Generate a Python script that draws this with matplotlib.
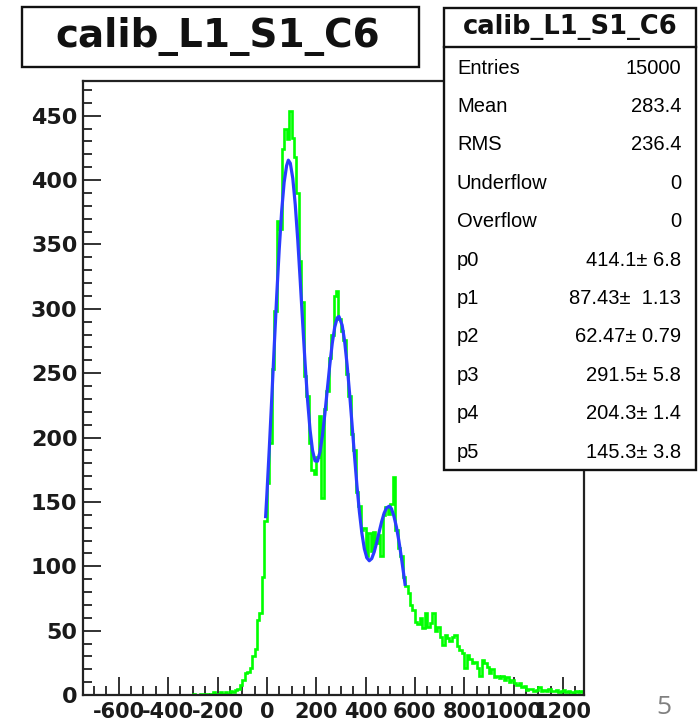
import numpy as np
import matplotlib
matplotlib.use('Agg')
import matplotlib.pyplot as plt
from matplotlib.patches import Rectangle
from matplotlib.lines import Line2D
from matplotlib.ticker import MultipleLocator

plt.rcParams['font.family'] = ['DejaVu Sans']
plt.rcParams['axes.unicode_minus'] = False

# histogram contents, 10 wide bins, first bin starts at -300
bin_start = -300
bin_width = 10
counts = [
    1, 0, 0, 1, 0, 1, 0, 1, 2, 1,
    1, 2, 1, 2, 1, 3, 2, 4, 5, 8,
    12, 17, 18, 21, 30, 36, 58, 64, 92, 135,
    165, 196, 253, 298, 368, 362, 424, 440, 432, 454,
    433, 418, 390, 337, 305, 248, 232, 196, 175, 172,
    185, 217, 153, 222, 236, 262, 280, 310, 314, 292,
    283, 276, 249, 232, 203, 190, 158, 147, 128, 130,
    108, 126, 112, 127, 118, 124, 108, 140, 146, 141,
    148, 169, 128, 114, 108, 92, 85, 79, 70, 66,
    57, 55, 60, 52, 64, 53, 56, 64, 50, 53,
    45, 39, 47, 44, 42, 45, 47, 38, 35, 33,
    21, 31, 28, 25, 26, 21, 15, 27, 25, 22,
    17, 20, 14, 15, 13, 15, 12, 14, 10, 12,
    9, 8, 9, 6, 7, 4, 5, 5, 3, 4,
    6, 3, 4, 3, 5, 3, 3, 4, 2, 3,
    4, 2, 3, 2, 1, 3, 2, 3,
]

# fitted curve (blue)
fit_x = [-5, 0, 10, 20, 30, 40, 50, 60, 70, 80, 87, 95, 105, 115, 125, 135,
         145, 155, 165, 175, 185, 195, 205, 215, 225, 235, 245, 255, 265, 275,
         285, 292, 305, 315, 325, 335, 345, 355, 365, 375, 385, 395, 405, 415,
         425, 435, 445, 455, 465, 475, 485, 496, 505, 515, 525, 535, 545, 555, 560]
fit_y = [138.6, 155.5, 192.1, 231.2, 271.4, 310.4, 346.1, 376.0, 398.3, 411.2,
         415.5, 413.1, 401.4, 381.0, 354.0, 322.4, 289.3, 257.3, 228.9, 205.9,
         190.1, 181.9, 181.6, 188.6, 201.4, 218.4, 237.5, 256.5, 273.3, 285.8,
         293.0, 294.1, 287.3, 275.0, 256.7, 234.7, 210.5, 186.0, 162.6, 142.2,
         125.6, 113.6, 106.6, 104.3, 106.0, 111.2, 118.5, 126.7, 134.6, 141.2,
         145.4, 146.7, 144.7, 138.8, 130.5, 119.6, 106.9, 93.1, 86.0]

hist_name = 'calib_L1_S1_C6'
stat_names = ['Entries', 'Mean', 'RMS', 'Underflow', 'Overflow',
              'p0', 'p1', 'p2', 'p3', 'p4', 'p5']
stat_values = ['15000', '283.4', '236.4', '0', '0',
               '414.1± 6.8', '87.43±  1.13', '62.47± 0.79',
               '291.5± 5.8', '204.3± 1.4', '145.3± 3.8']

x_ticks = [-600, -400, -200, 0, 200, 400, 600, 800, 1000, 1200]
y_ticks = [0, 50, 100, 150, 200, 250, 300, 350, 400, 450]

# figure in pixel units
W, H = 699, 725
fig = plt.figure(figsize=(W / 100, H / 100), dpi=100)

def fx(px):
    return px / W

def fy(py):
    return 1 - py / H

ax = fig.add_axes([fx(83), fy(695), (584 - 83) / W, (695 - 81) / H])

edges = bin_start + bin_width * np.arange(len(counts) + 1)
ax.stairs(counts, edges, color='#00ff00', linewidth=1.9, zorder=2)
ax.plot(fit_x, fit_y, color='#2a3cff', linewidth=2.3, zorder=3)

ax.set_xlim(-745, 1285)
ax.set_ylim(0, 477)
ax.set_xticks(x_ticks)
ax.set_yticks(y_ticks)
ax.xaxis.set_minor_locator(MultipleLocator(50))
ax.yaxis.set_minor_locator(MultipleLocator(10))
ax.tick_params(which='both', direction='in', width=1.3, color='#222222')
ax.tick_params(which='major', length=13)
ax.tick_params(which='minor', length=6.5)
ax.tick_params(axis='x', labelsize=15, pad=5, labelcolor='#1a1a1a')
ax.tick_params(axis='y', labelsize=16, pad=4, labelcolor='#1a1a1a')
for lab in ax.get_xticklabels() + ax.get_yticklabels():
    lab.set_fontweight('bold')
for s in ax.spines.values():
    s.set_linewidth(1.6)
    s.set_color('#222222')

# title box
fig.add_artist(Rectangle((fx(22), fy(67)), (419 - 22) / W, (67 - 7) / H,
                         transform=fig.transFigure, facecolor='white',
                         edgecolor='#111111', linewidth=1.7, zorder=5))
fig.text(fx(218), fy(37), hist_name, ha='center', va='center',
         fontsize=28, fontweight='bold', color='#111111', zorder=6)

# stats box
fig.add_artist(Rectangle((fx(444), fy(470)), (696 - 444) / W, (470 - 8) / H,
                         transform=fig.transFigure, facecolor='white',
                         edgecolor='#111111', linewidth=1.7, zorder=5))
fig.add_artist(Line2D([fx(444), fx(696)], [fy(47), fy(47)],
                      transform=fig.transFigure, color='#111111',
                      linewidth=1.7, zorder=6))
fig.text(fx(570), fy(27), hist_name, ha='center', va='center',
         fontsize=18.5, fontweight='bold', color='#111111', zorder=6)
for i, (name, val) in enumerate(zip(stat_names, stat_values)):
    y = 68 + 38.4 * i
    fig.text(fx(457), fy(y), name, ha='left', va='center', fontsize=14.5,
             color='black', family=['Liberation Sans', 'DejaVu Sans'], zorder=6)
    fig.text(fx(681), fy(y), val, ha='right', va='center', fontsize=14.5,
             color='black', family=['Liberation Sans', 'DejaVu Sans'], zorder=6)

# slide number
fig.text(fx(664), fy(707), '5', ha='center', va='center', fontsize=19,
         color='#808080', family=['Open Sans', 'DejaVu Sans'])

fig.savefig('out.png', dpi=100)
